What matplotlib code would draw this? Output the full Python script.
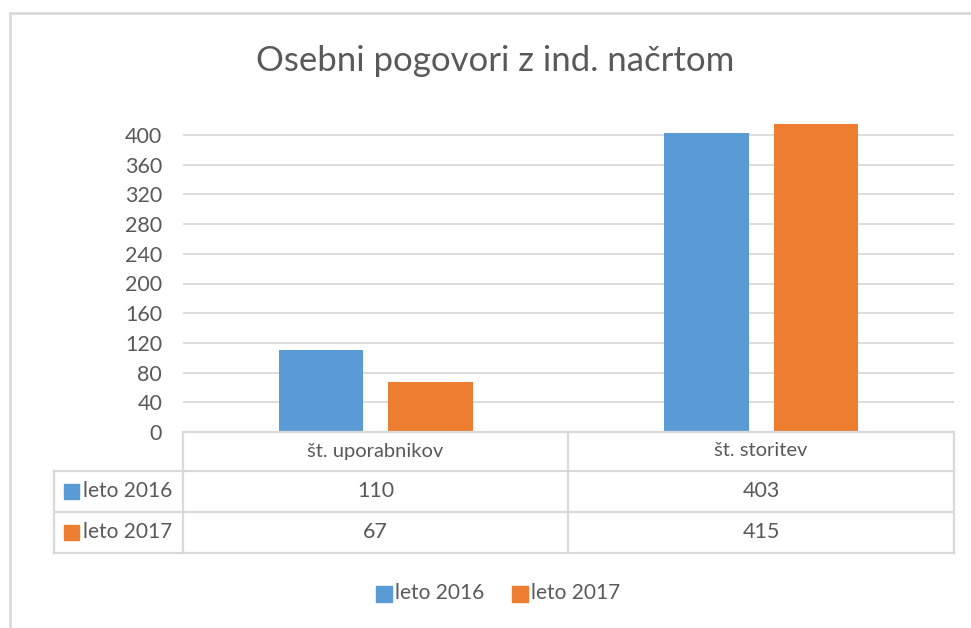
import matplotlib
matplotlib.use("Agg")
import matplotlib.pyplot as plt
from matplotlib.lines import Line2D
from matplotlib.patches import Rectangle

categories = ["št. uporabnikov", "št. storitev"]
series_names = ["leto 2016", "leto 2017"]
values_2016 = [110, 403]
values_2017 = [67, 415]
yticks = [0, 40, 80, 120, 160, 200, 240, 280, 320, 360, 400]
title = "Osebni pogovori z ind. načrtom"

W, H = 971, 628
BLUE = "#5B9BD5"
ORANGE = "#ED7D31"
GRID = "#D9D9D9"
TXT = "#595959"
FONT = ["Lato", "DejaVu Sans"]
plt.rcParams["font.family"] = FONT

fig = plt.figure(figsize=(W / 100, H / 100), dpi=100)

def fx(x):
    return x / W

def fy(y):
    return 1 - y / H

# outer chart border (left and top visible)
fig.add_artist(Line2D([fx(10), fx(10)], [fy(13), fy(H + 5)], color=GRID, lw=2))
fig.add_artist(Line2D([fx(10), fx(W + 5)], [fy(13), fy(13)], color=GRID, lw=2))

# plot area
ax_l, ax_r, ax_b = 183, 954, 432
ymax = 420
px_per = (431 - 134) / 400.0
ax_t = ax_b - ymax * px_per
ax = fig.add_axes([fx(ax_l), fy(ax_b), fx(ax_r - ax_l), (ax_b - ax_t) / H])

x = list(range(len(categories)))
bw = 0.22
off = 0.142
ax.bar([i - off for i in x], values_2016, width=bw, color=BLUE, zorder=3)
ax.bar([i + off for i in x], values_2017, width=bw, color=ORANGE, zorder=3)
ax.set_xlim(-0.5, len(categories) - 0.5)
ax.set_ylim(0, ymax)
ax.set_yticks(yticks)
ax.set_yticklabels([str(t) for t in yticks])
ax.set_xticks([])
ax.grid(axis="y", color=GRID, lw=1.3, zorder=0)
for s in ax.spines.values():
    s.set_visible(False)
ax.tick_params(axis="y", length=0, pad=15, labelsize=15.5, labelcolor=TXT)
ax.patch.set_alpha(0)

fig.text(0.5 + fx(10), fy(61), title, ha="center", va="center", fontsize=25,
         color=TXT)

# data table
rows_y = [432, 471, 512, 553]
col_x = [54, 183, 568, 954]
lc = GRID
lw = 1.6
fig.add_artist(Line2D([fx(183), fx(954)], [fy(432), fy(432)], color=lc, lw=lw))
for yy in rows_y[1:]:
    fig.add_artist(Line2D([fx(54), fx(954)], [fy(yy), fy(yy)], color=lc, lw=lw))
for xx in col_x[1:]:
    fig.add_artist(Line2D([fx(xx), fx(xx)], [fy(432), fy(553)], color=lc, lw=lw))
fig.add_artist(Line2D([fx(54), fx(54)], [fy(471), fy(553)], color=lc, lw=lw))

for j, cat in enumerate(categories):
    cx = (col_x[j + 1] + col_x[j + 2]) / 2
    fig.text(fx(cx), fy(451), cat, ha="center", va="center", fontsize=14.5, color=TXT)
    fig.text(fx(cx), fy(491), str(values_2016[j]), ha="center", va="center", fontsize=15.5, color=TXT)
    fig.text(fx(cx), fy(532), str(values_2017[j]), ha="center", va="center", fontsize=15.5, color=TXT)

for i, (name, col) in enumerate(zip(series_names, [BLUE, ORANGE])):
    yc = 491 if i == 0 else 532
    fig.add_artist(Rectangle((fx(64), fy(yc + 8)), fx(15), 15 / H, color=col,
                             transform=fig.transFigure))
    fig.text(fx(83), fy(yc), name, ha="left", va="center", fontsize=15, color=TXT)

# bottom legend
leg = [(376, BLUE, series_names[0]), (512, ORANGE, series_names[1])]
for lx, col, name in leg:
    fig.add_artist(Rectangle((fx(lx), fy(602)), fx(16), 16 / H, color=col,
                             transform=fig.transFigure))
    fig.text(fx(lx + 19), fy(593), name, ha="left", va="center", fontsize=15, color=TXT)

fig.savefig("out.png", dpi=100)
